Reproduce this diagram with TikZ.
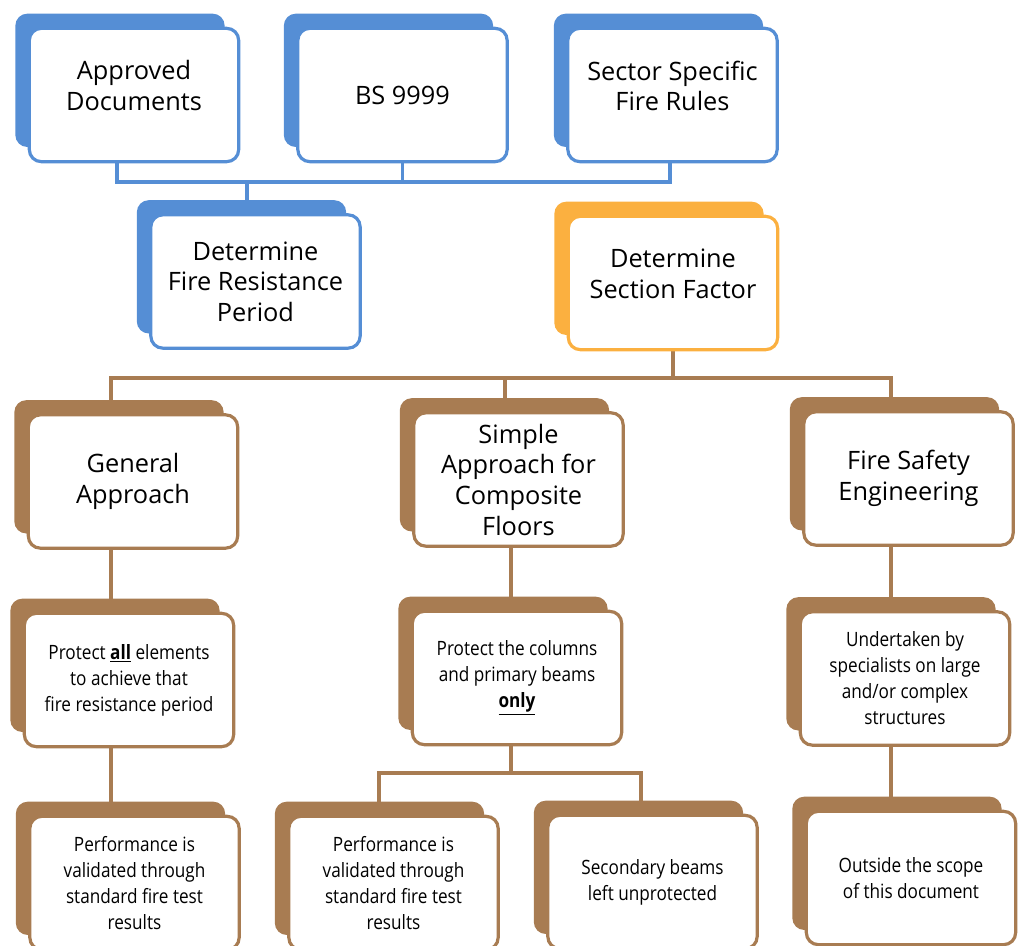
\documentclass[tikz,border=0pt]{standalone}
\usepackage{fontspec}
\setmainfont{Open Sans}
\newfontfamily\narrowfont[FakeStretch=0.87]{Open Sans}
\definecolor{sfblue}{RGB}{85,142,213}
\definecolor{sforange}{RGB}{251,176,64}
\definecolor{sfbrown}{RGB}{168,124,82}
\usetikzlibrary{shadows}
\pgfdeclarelayer{bg}
\pgfsetlayers{bg,main}

\tikzset{
    card/.style={draw, fill=white, rounded corners=9pt, line width=2.4pt, minimum width=157pt, minimum height=100pt, align=center, inner sep=2pt},
    bigtext/.style={font=\fontsize{19}{23}\selectfont},
    smalltext/.style={font=\narrowfont\fontsize{14.8}{19.5}\selectfont},
    raised/.style={text depth=14pt},
    bluecard/.style={card, bigtext, draw=sfblue, general shadow={fill=sfblue, shadow xshift=-10.5pt, shadow yshift=11pt}},
    orangecard/.style={card, bigtext, draw=sforange, general shadow={fill=sforange, shadow xshift=-10.5pt, shadow yshift=11pt}},
    browncard/.style={card, draw=sfbrown, general shadow={fill=sfbrown, shadow xshift=-10.5pt, shadow yshift=11pt}},
    bluelink/.style={sfblue, line width=2.4pt},
    brownlink/.style={sfbrown, line width=2.4pt}
}

\begin{document}
\begin{tikzpicture}[x=0.75pt,y=-0.75pt]
    \clip (0,0) rectangle (1022,946);

    \node[bluecard, raised] (appr) at (134,95) {Approved\\Documents};
    \node[bluecard] (bs) at (402.5,95) {BS 9999};
    \node[bluecard, raised] (sector) at (672.5,95) {Sector Specific\\Fire Rules};

    \node[bluecard] (period) at (255.5,281.5) {Determine\\Fire Resistance\\Period};
    \node[orangecard, raised] (factor) at (673,283) {Determine\\Section Factor};

    \node[browncard, bigtext] (general) at (133,481.5) {General\\Approach};
    \node[browncard, bigtext] (simple) at (518.5,479.5) {Simple\\Approach for\\Composite\\Floors};
    \node[browncard, bigtext] (fse) at (908.5,478.5) {Fire Safety\\Engineering};

    \node[browncard, smalltext] (protall) at (129,680) {Protect \underline{\textbf{all}} elements\\to achieve that\\fire resistance period};
    \node[browncard, smalltext] (protcol) at (517,678) {Protect the columns\\and primary beams\\\underline{\textbf{only}}};
    \node[browncard, smalltext] (special) at (905,678.5) {Undertaken by\\specialists on large\\and/or complex\\structures};

    \node[browncard, smalltext] (testA) at (134.5,883) {Performance is\\validated through\\standard fire test\\results};
    \node[browncard, smalltext] (testB) at (393.5,883) {Performance is\\validated through\\standard fire test\\results};
    \node[browncard, smalltext] (secondary) at (652.5,882) {Secondary beams\\left unprotected};
    \node[browncard, smalltext] (scope) at (911,878) {Outside the scope\\of this document};

    \begin{pgfonlayer}{bg}
        \coordinate (busL) at (117,182);
        \coordinate (busR) at (670,182);
        \coordinate (busP) at (247,182);
        \draw[bluelink] (appr.south -| busL) -- (busL) -- (busR) -- (sector.south -| busR);
        \draw[bluelink] (bs.south) -- (bs.south |- busL);
        \draw[bluelink] (busP) -- (period.north -| busP);

        \coordinate (colA) at (111,378);
        \coordinate (colB) at (505,378);
        \coordinate (colC) at (891,378);
        \draw[brownlink] (factor.south) -- (factor.south |- colA);
        \draw[brownlink] (general.north -| colA) -- (colA) -- (colC) -- (fse.north -| colC);
        \draw[brownlink] (colB) -- (simple.north -| colB);
        \draw[brownlink] (general.south -| colA) -- (testA.north -| colA);
        \draw[brownlink] (fse.south -| colC) -- (scope.north -| colC);

        \coordinate (forkL) at (379,773);
        \coordinate (forkM) at (511,773);
        \coordinate (forkR) at (641,773);
        \draw[brownlink] (simple.south -| forkM) -- (forkM);
        \draw[brownlink] (testB.north -| forkL) -- (forkL) -- (forkR) -- (secondary.north -| forkR);
    \end{pgfonlayer}
\end{tikzpicture}
\end{document}
